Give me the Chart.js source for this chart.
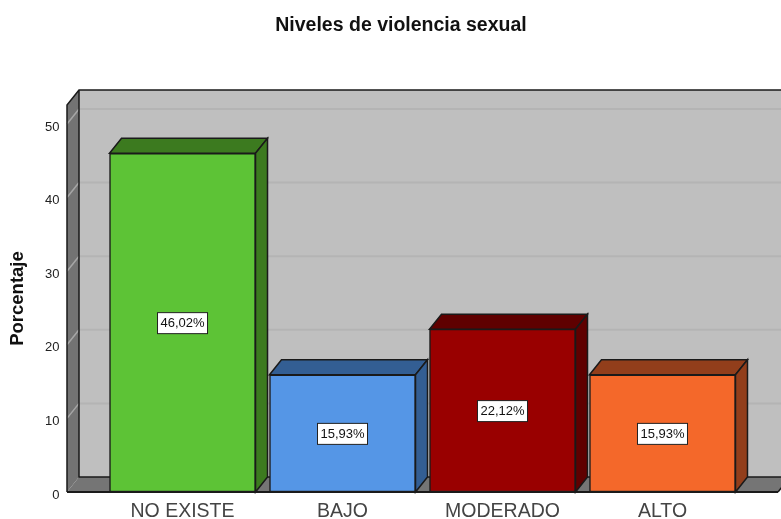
<!DOCTYPE html>
<html>
<head>
<meta charset="utf-8">
<script src="https://cdn.jsdelivr.net/npm/chart.js@4"></script>
<style>html,body{margin:0;padding:0;background:#fff;overflow:hidden}canvas{display:block}</style>
</head>
<body>
<canvas id="c" width="781" height="519"></canvas>
<script>
const categories = ["NO EXISTE", "BAJO", "MODERADO", "ALTO"];
const values = [46.02, 15.93, 22.12, 15.93];
const valueLabels = ["46,02%", "15,93%", "22,12%", "15,93%"];
const yTicks = [0, 10, 20, 30, 40, 50];
const frontColors = ["#5dc336", "#5596e6", "#990000", "#f4682a"];
const depthColors = ["#3c7a1f", "#335e93", "#5f0000", "#923e1b"];
const DX = 12, DY = 15, LINE = "#1a1a1a";

function poly(ctx, pts, fill, stroke, lw) {
  ctx.beginPath();
  pts.forEach((p, i) => i ? ctx.lineTo(p[0], p[1]) : ctx.moveTo(p[0], p[1]));
  ctx.closePath();
  if (fill) { ctx.fillStyle = fill; ctx.fill(); }
  if (stroke) { ctx.strokeStyle = stroke; ctx.lineWidth = lw || 1.5; ctx.stroke(); }
}

const box3d = {
  id: "box3d",
  beforeDatasetsDraw(chart) {
    const { ctx, chartArea: a, scales: { y } } = chart;
    const L = a.left, R = a.right, T = a.top, B = a.bottom;
    ctx.save();
    // back wall
    poly(ctx, [[L + DX, T - DY], [R + DX, T - DY], [R + DX, B - DY], [L + DX, B - DY]], "#bfbfbf");
    // left wall
    poly(ctx, [[L, T], [L + DX, T - DY], [L + DX, B - DY], [L, B]], "#737373");
    // floor
    poly(ctx, [[L, B], [L + DX, B - DY], [R + DX, B - DY], [R, B]], "#757575");
    // grid lines
    yTicks.filter(v => v > 0).forEach(v => {
      const py = y.getPixelForValue(v);
      ctx.strokeStyle = "#b4b4b4"; ctx.lineWidth = 2;
      ctx.beginPath(); ctx.moveTo(L + DX, py - DY); ctx.lineTo(R + DX, py - DY); ctx.stroke();
      ctx.strokeStyle = "#a6a6a6"; ctx.lineWidth = 1.5;
      ctx.beginPath(); ctx.moveTo(L, py); ctx.lineTo(L + DX, py - DY); ctx.stroke();
    });
    // frame
    ctx.strokeStyle = LINE; ctx.lineWidth = 1.5;
    ctx.beginPath();
    ctx.moveTo(L, B); ctx.lineTo(L, T); ctx.lineTo(L + DX, T - DY); ctx.lineTo(R + DX, T - DY);
    ctx.moveTo(L + DX, T - DY); ctx.lineTo(L + DX, B - DY); ctx.lineTo(R + DX, B - DY);
    ctx.moveTo(R, B); ctx.lineTo(R + DX, B - DY);
    ctx.stroke();
    ctx.lineWidth = 2;
    ctx.beginPath(); ctx.moveTo(L, B); ctx.lineTo(R, B); ctx.stroke();
    // bar depth faces
    chart.getDatasetMeta(0).data.forEach((bar, i) => {
      const l = bar.x - bar.width / 2, r = bar.x + bar.width / 2, t = bar.y, b = bar.base;
      poly(ctx, [[l, t], [l + DX, t - DY], [r + DX, t - DY], [r, t]], depthColors[i], LINE);
      poly(ctx, [[r, t], [r + DX, t - DY], [r + DX, b - DY], [r, b]], depthColors[i], LINE);
    });
    ctx.restore();
  },
  afterDatasetsDraw(chart) {
    const { ctx } = chart;
    ctx.save();
    ctx.font = "13px 'Liberation Sans'";
    ctx.textAlign = "center";
    ctx.textBaseline = "middle";
    chart.getDatasetMeta(0).data.forEach((bar, i) => {
      const cy = (bar.y + bar.base) / 2 + 0.5, w = 50, h = 21;
      ctx.fillStyle = "#fff";
      ctx.fillRect(bar.x - w / 2, cy - h / 2, w, h);
      ctx.strokeStyle = "#222"; ctx.lineWidth = 1;
      ctx.strokeRect(bar.x - w / 2, cy - h / 2, w, h);
      ctx.fillStyle = "#111";
      ctx.fillText(valueLabels[i], bar.x, cy + 0.5);
    });
    ctx.restore();
  }
};

new Chart(document.getElementById("c"), {
  type: "bar",
  plugins: [box3d],
  data: {
    labels: categories,
    datasets: [{
      label: "Porcentaje",
      data: values.map((v, i) => ({ x: i, y: v })),
      backgroundColor: frontColors,
      borderColor: LINE,
      borderWidth: 1.5,
      borderSkipped: false,
      barThickness: 146
    }]
  },
  options: {
    responsive: false,
    animation: false,
    events: [],
    layout: { padding: { left: 24, right: 3, top: 0, bottom: 0 } },
    plugins: {
      legend: { display: false },
      tooltip: { enabled: false },
      title: {
        display: true,
        text: "Niveles de violencia sexual",
        color: "#111",
        font: { family: "'Liberation Sans'", size: 19.5, weight: "bold" },
        padding: { top: 14, bottom: 67.6 }
      }
    },
    scales: {
      x: {
        type: "linear",
        offset: false,
        min: -0.722,
        max: 3.722,
        grid: { display: false, drawTicks: false },
        border: { display: false },
        afterBuildTicks(s) { s.ticks = categories.map((_, i) => ({ value: i })); },
        afterFit(s) { s.height = 27; },
        ticks: {
          autoSkip: false,
          maxRotation: 0,
          padding: 8,
          color: "#444",
          font: { family: "'Liberation Sans'", size: 19.5 },
          callback: v => categories[v]
        }
      },
      y: {
        min: 0,
        max: 52.58,
        grid: { display: false, drawTicks: false },
        border: { display: false },
        afterFit(s) { s.width = 43; },
        ticks: {
          stepSize: 10,
          includeBounds: false,
          padding: 7.5,
          labelOffset: 3,
          color: "#222",
          font: { family: "'Liberation Sans'", size: 13 }
        },
        title: {
          display: true,
          text: "Porcentaje",
          color: "#111",
          font: { family: "'Liberation Sans'", size: 18.5, weight: "bold" },
          padding: { top: -17.1, bottom: 0 }
        }
      }
    }
  }
});
</script>
</body>
</html>
